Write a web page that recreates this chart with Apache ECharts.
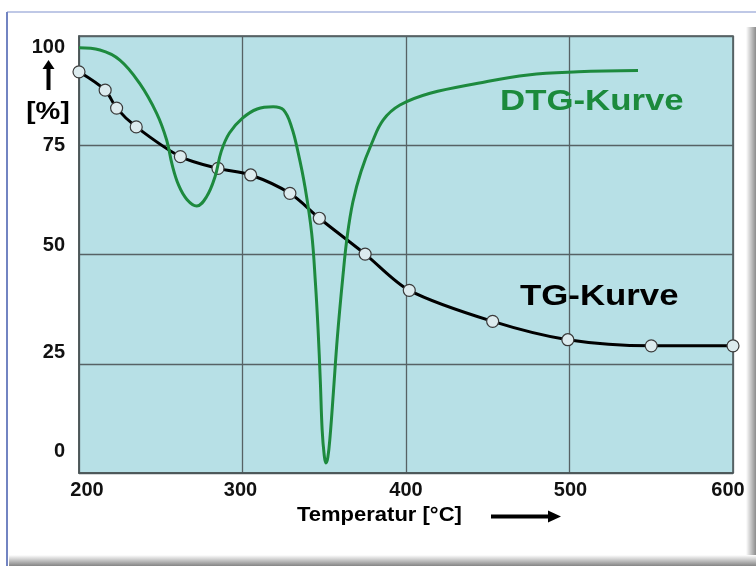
<!DOCTYPE html>
<html>
<head>
<meta charset="utf-8">
<script src="https://cdn.jsdelivr.net/npm/echarts@6/dist/echarts.min.js"></script>
<style>
html,body{margin:0;padding:0;background:#fff;}
#c{width:756px;height:566px;}
</style>
</head>
<body>
<div id="c"></div>
<script>
// ---- data ----
const xTicks = [200, 300, 400, 500, 600];
const yTicks = [0, 25, 50, 75, 100];

// TG curve (mass, %) with its marked measuring points
const tgTemp = [200, 216, 223, 235, 262, 285, 305, 329, 347, 375, 402, 453, 499, 550, 600];
const tgMass = [91.8, 87.6, 83.5, 79.2, 72.4, 69.7, 68.2, 64.0, 58.3, 50.1, 41.8, 34.7, 30.5, 29.1, 29.1];

// DTG curve (scaled)
const dtgTemp = [200, 212.8, 225, 237, 247.5, 253.6, 257, 261, 266, 272, 278, 283.2, 287, 292,
  300, 309, 318.8, 325, 330, 334.1, 338.2, 342.3, 344.6, 346.2, 347.6, 348.7, 350, 351, 352.2,
  353.6, 355.6, 358, 361.4, 364, 367.5, 372.5, 379, 386.1, 396.3, 414.7, 444, 474.6, 505.2, 541.9];
const dtgValue = [97.3, 96.8, 94.5, 89.2, 82.3, 76.2, 70.5, 65.8, 62.6, 61.1, 63.2, 67.8, 73.6, 77.8,
  81.2, 83.3, 83.8, 83.1, 79.2, 73.2, 65.5, 54.9, 43.5, 33.0, 21.0, 10.0, 4.0, 2.3, 3.6,
  8.5, 18.5, 31.0, 45.0, 54.0, 62.0, 69.0, 75.4, 80.8, 84.2, 86.9, 89.2, 91.1, 91.8, 92.1];

const labelDTG = 'DTG-Kurve';
const labelTG = 'TG-Kurve';
const xTitle = 'Temperatur [°C]';
const yUnit = '[%]';

// ---- chart ----
const FONT = '"Liberation Sans", Arial, sans-serif';
const green = '#1d8a3e';
const chart = echarts.init(document.getElementById('c'), null, {renderer: 'canvas'});

const tgData = tgTemp.map((t, i) => [t, tgMass[i]]);
const dtgData = dtgTemp.map((t, i) => [t, dtgValue[i]]);

const yShift = {100: [22, 0, 0, 0], 75: [0, 0, 0, 0], 50: [0, 0, 19, 0], 25: [0, 0, 22, 0], 0: [0, 0, 44, 0]};
const xShift = {200: [0, 0, 0, 16], 300: [0, 4, 0, 0], 400: [0, 0, 0, 0], 500: [0, 0, 0, 2], 600: [0, 10, 0, 0]};
const yRich = {}, xRich = {};
yTicks.forEach(v => { yRich['y' + v] = {padding: yShift[v], fontSize: 20, fontWeight: 'bold', fontFamily: FONT, color: '#111'}; });
xTicks.forEach(v => { xRich['x' + v] = {padding: xShift[v], fontSize: 20, fontWeight: 'bold', fontFamily: FONT, color: '#111'}; });

const option = {
  animation: false,
  backgroundColor: '#ffffff',
  grid: {left: 79, top: 36, right: 23, bottom: 93, show: true, backgroundColor: '#b7e0e6', borderColor: '#4a5456', borderWidth: 1.5},
  xAxis: {
    type: 'value', min: 200, max: 600, interval: 100,
    axisLine: {show: true, lineStyle: {color: '#4a5456', width: 1.5}},
    axisTick: {show: false},
    splitLine: {show: true, lineStyle: {color: '#566265', width: 1.3}},
    axisLabel: {
      margin: 7, fontSize: 20, fontWeight: 'bold', fontFamily: FONT, color: '#111',
      formatter: v => '{x' + v + '|' + v + '}', rich: xRich
    }
  },
  yAxis: {
    type: 'value', min: 0, max: 100, interval: 25,
    axisLine: {show: true, lineStyle: {color: '#4a5456', width: 1.5}},
    axisTick: {show: false},
    splitLine: {show: true, lineStyle: {color: '#566265', width: 1.3}},
    axisLabel: {
      margin: 14, fontSize: 20, fontWeight: 'bold', fontFamily: FONT, color: '#111',
      formatter: v => '{y' + v + '|' + v + '}', rich: yRich
    }
  },
  series: [
    {
      name: labelTG, type: 'line', data: tgData, smooth: 0.3, z: 3,
      lineStyle: {color: '#000', width: 3},
      symbol: 'circle', symbolSize: 12, showSymbol: true,
      itemStyle: {color: '#dcebee', borderColor: '#3a3a3a', borderWidth: 1.2}
    },
    {
      name: labelDTG, type: 'line', data: dtgData, smooth: 0.4, z: 4,
      lineStyle: {color: green, width: 3}, showSymbol: false, symbol: 'none'
    }
  ],
  graphic: [
    // slide frame
    {type: 'line', shape: {x1: 7, y1: 12, x2: 756, y2: 12}, style: {stroke: '#aab6de', lineWidth: 1.5}, z: 100},
    {type: 'line', shape: {x1: 7, y1: 12, x2: 7, y2: 566}, style: {stroke: '#7284c2', lineWidth: 2}, z: 100},
    {type: 'rect', shape: {x: 746, y: 27, width: 10, height: 539},
      style: {fill: new echarts.graphic.LinearGradient(0, 0, 1, 0, [{offset: 0, color: '#ffffff'}, {offset: 1, color: '#8c8c8c'}])}, z: 99},
    {type: 'rect', shape: {x: 9, y: 555, width: 747, height: 11},
      style: {fill: new echarts.graphic.LinearGradient(0, 0, 0, 1, [{offset: 0, color: '#ffffff'}, {offset: 1, color: '#858585'}])}, z: 99},
    // y unit with arrow
    {type: 'polygon', shape: {points: [[42.5, 69], [48.5, 60], [54.5, 69]]}, style: {fill: '#000'}, z: 100},
    {type: 'rect', shape: {x: 46.5, y: 67, width: 4, height: 23}, style: {fill: '#000'}, z: 100},
    {type: 'text', x: 48, y: 112, scaleX: 1.16,
      style: {text: yUnit, font: 'bold 24px ' + FONT, fill: '#000', textAlign: 'center', textVerticalAlign: 'middle'}, z: 100},
    // x title with arrow
    {type: 'text', x: 297, y: 515, scaleX: 1.1,
      style: {text: xTitle, font: 'bold 20px ' + FONT, fill: '#000', textAlign: 'left', textVerticalAlign: 'middle'}, z: 100},
    {type: 'rect', shape: {x: 491, y: 514.5, width: 59, height: 4}, style: {fill: '#000'}, z: 100},
    {type: 'polygon', shape: {points: [[548, 510.5], [561, 516.5], [548, 522.5]]}, style: {fill: '#000'}, z: 100},
    // curve labels
    {type: 'text', x: 500, y: 102, scaleX: 1.16,
      style: {text: labelDTG, font: 'bold 30px ' + FONT, fill: '#1b8a3c', textAlign: 'left', textVerticalAlign: 'middle'}, z: 100},
    {type: 'text', x: 520, y: 297, scaleX: 1.16,
      style: {text: labelTG, font: 'bold 30px ' + FONT, fill: '#000', textAlign: 'left', textVerticalAlign: 'middle'}, z: 100}
  ]
};
chart.setOption(option);
</script>
</body>
</html>
